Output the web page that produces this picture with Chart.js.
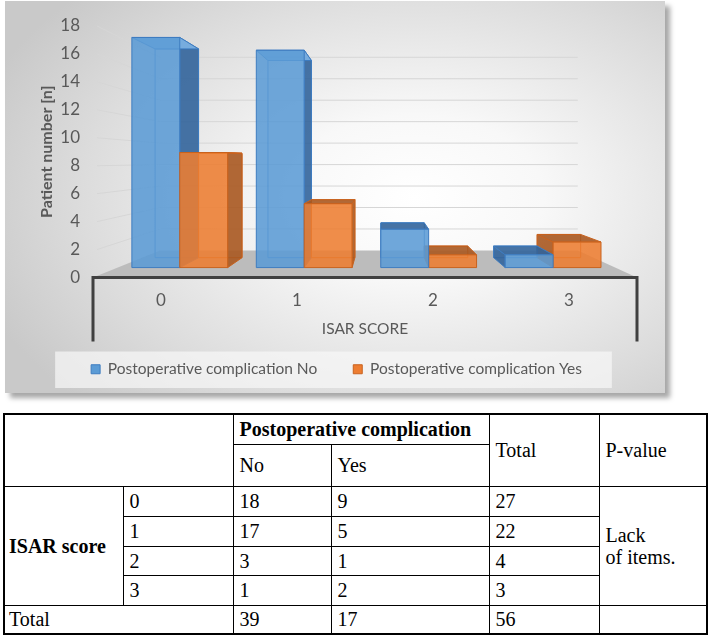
<!DOCTYPE html>
<html>
<head>
<meta charset="utf-8">
<script src="https://cdn.jsdelivr.net/npm/chart.js@4.4.1/dist/chart.umd.min.js"></script>
<style>
    body { margin: 0; background: #fff; width: 709px; height: 635px; position: relative; overflow: hidden; }
    /* painel cinza do grafico */
    #painel {
        position: absolute; left: 5px; top: 1px; width: 660px; height: 392px;
        background: radial-gradient(ellipse 70% 75% at 62% 50%, #ffffff 0%, #f8f8f8 28%, #dcdcdc 72%, #c9c9c9 100%);
        box-shadow: 5px 5px 5px rgba(0, 0, 0, 0.35);
    }
    #grafico { position: absolute; left: 0; top: 0; }
    #tabela {
        position: absolute; left: 3px; top: 413px; width: 703px;
        border-collapse: collapse; table-layout: fixed;
        font-family: "Liberation Serif", "Times New Roman", serif; font-size: 20px; color: #000;
        border: 2px solid #000;
    }
    #tabela td { border: 1.5px solid #000; padding: 0 0 0 6px; vertical-align: middle; line-height: 22px; }
    #tabela td.c1 { padding-left: 4px; }
    #tabela .b { font-weight: bold; }
</style>
</head>
<body>
<div id="painel"></div>
<canvas id="grafico" width="709" height="395"></canvas>
<table id="tabela">
    <colgroup>
        <col style="width:119px"><col style="width:110px"><col style="width:98px">
        <col style="width:158px"><col style="width:110px"><col style="width:108px">
    </colgroup>
    <tbody id="corpo"></tbody>
</table>

<script>
// dados do grafico
const categorias = ['0', '1', '2', '3'];
const complicacaoNao = [18, 17, 3, 1];
const complicacaoSim = [9, 5, 1, 2];
const marcasY = [0, 2, 4, 6, 8, 10, 12, 14, 16, 18];

// cores de cada serie (frente, lado, tampa, borda)
const cores = [
    { frente: 'rgba(91, 155, 213, 0.88)', lado: 'rgba(50, 100, 155, 0.9)', tampa: 'rgba(125, 178, 228, 0.9)', borda: '#3e7cc0' },
    { frente: 'rgba(237, 125, 49, 0.88)', lado: 'rgba(168, 88, 32, 0.9)', tampa: 'rgba(246, 152, 88, 0.9)', borda: '#c8621e' }
];

function quad(ctx, pts, fill, stroke) {
    ctx.beginPath();
    ctx.moveTo(pts[0][0], pts[0][1]);
    for (let i = 1; i < pts.length; i++) ctx.lineTo(pts[i][0], pts[i][1]);
    ctx.closePath();
    ctx.fillStyle = fill;
    ctx.fill();
    ctx.strokeStyle = stroke;
    ctx.lineWidth = 1;
    ctx.stroke();
}

// desenha a cena 3D (paredes, piso e barras) a partir das escalas
const cena3d = {
    id: 'cena3d',
    beforeDraw(chart) {
        // fundo claro da legenda
        const caixas = chart.legend && chart.legend.legendHitBoxes;
        if (caixas && caixas.length) {
            const ctx = chart.ctx;
            const a = caixas[0], b = caixas[caixas.length - 1];
            ctx.save();
            ctx.fillStyle = 'rgba(248, 248, 248, 0.7)';
            ctx.fillRect(a.left - 36, a.top - 10, b.left + b.width - a.left + 66, a.height + 21);
            ctx.restore();
        }
    },
    beforeDatasetsDraw(chart) {
        const ctx = chart.ctx;
        const ca = chart.chartArea;
        const escY = chart.scales.y;
        const vx = ca.left + (ca.right - ca.left) * 0.531;
        const vy = ca.top + (ca.bottom - ca.top) * 0.536;
        const proj = (X, Y, t) => [X + t * (vx - X), Y + t * (vy - Y)];
        const tParede = 0.232, tFrente = 0.085, tFundo = 0.17;
        const y0 = escY.getPixelForValue(0);

        ctx.save();
        // linhas de grade nas paredes
        ctx.strokeStyle = '#d6d6d6';
        ctx.lineWidth = 1;
        marcasY.forEach(v => {
            if (v === 0) return;
            const yy = escY.getPixelForValue(v);
            const a = proj(ca.left, yy, tParede);
            const b = proj(ca.right, yy, tParede);
            ctx.beginPath();
            ctx.moveTo(ca.left + 4, yy);
            ctx.lineTo(a[0], a[1]);
            ctx.lineTo(b[0], b[1]);
            ctx.stroke();
        });

        // piso
        const p1 = proj(ca.left, y0, tParede), p2 = proj(ca.right, y0, tParede);
        ctx.fillStyle = '#bcbcbc';
        ctx.beginPath();
        ctx.moveTo(ca.left, y0);
        ctx.lineTo(p1[0], p1[1]);
        ctx.lineTo(p2[0], p2[1]);
        ctx.lineTo(ca.right, y0);
        ctx.closePath();
        ctx.fill();

        // caixa do eixo das categorias
        ctx.strokeStyle = '#404040';
        ctx.lineWidth = 3;
        ctx.beginPath();
        ctx.moveTo(ca.left, y0 + 64);
        ctx.lineTo(ca.left, y0);
        ctx.lineTo(ca.right, y0);
        ctx.lineTo(ca.right, y0 + 64);
        ctx.stroke();

        // barras
        const barras = [];
        chart.data.datasets.forEach((ds, i) => {
            chart.getDatasetMeta(i).data.forEach(el => {
                barras.push({ x0: el.x - el.width / 2, x1: el.x + el.width / 2, topo: el.y, base: el.base, c: cores[i] });
            });
        });
        barras.sort((a, b) => Math.abs(b.x0 + b.x1 - 2 * vx) - Math.abs(a.x0 + a.x1 - 2 * vx));

        barras.forEach(b => {
            const F = (X, Y) => proj(X, Y, tFrente);
            const T = (X, Y) => proj(X, Y, tFundo);
            // face de tras
            quad(ctx, [T(b.x0, b.topo), T(b.x1, b.topo), T(b.x1, b.base), T(b.x0, b.base)], 'rgba(255,255,255,0.05)', b.c.borda);
            // lateral
            let lx = null;
            if (b.x1 < vx) lx = b.x1;
            else if (b.x0 > vx) lx = b.x0;
            if (lx !== null) {
                quad(ctx, [F(lx, b.topo), T(lx, b.topo), T(lx, b.base), F(lx, b.base)], b.c.lado, b.c.borda);
            }
            // tampa
            quad(ctx, [F(b.x0, b.topo), F(b.x1, b.topo), T(b.x1, b.topo), T(b.x0, b.topo)],
                b.topo < vy ? b.c.tampa : b.c.lado, b.c.borda);
            // frente
            quad(ctx, [F(b.x0, b.topo), F(b.x1, b.topo), F(b.x1, b.base), F(b.x0, b.base)], b.c.frente, b.c.borda);
        });
        ctx.restore();
        return false;
    }
};

document.addEventListener('DOMContentLoaded', function () {
    const ctx = document.getElementById('grafico').getContext('2d');
    const fonte = { family: 'Lato', size: 17 };

    new Chart(ctx, {
        type: 'bar',
        data: {
            labels: categorias,
            datasets: [{
                label: 'Postoperative complication No',
                data: complicacaoNao,
                backgroundColor: '#5b9bd5',
                borderColor: '#3e7cc0',
                borderWidth: 1,
                categoryPercentage: 0.77,
                barPercentage: 1
            }, {
                label: 'Postoperative complication Yes',
                data: complicacaoSim,
                backgroundColor: '#ed7d31',
                borderColor: '#c8621e',
                borderWidth: 1,
                categoryPercentage: 0.77,
                barPercentage: 1
            }]
        },
        options: {
            responsive: false,
            animation: false,
            layout: { padding: { left: 36, right: 72, top: 26, bottom: 8 } },
            plugins: {
                tooltip: { enabled: false },
                legend: {
                    position: 'bottom',
                    labels: { boxWidth: 9, boxHeight: 9, padding: 36, color: '#595959', font: { family: 'Lato', size: 15.5 } }
                }
            },
            scales: {
                x: {
                    grid: { display: false, drawTicks: false },
                    border: { display: false },
                    ticks: { color: '#595959', font: fonte, padding: 13 },
                    title: { display: true, text: 'ISAR SCORE', color: '#595959', font: { family: 'Lato', size: 15.5 }, padding: { top: 0, bottom: -13 } },
                    afterFit: s => { s.height = 48; }
                },
                y: {
                    min: 0,
                    max: 18,
                    afterBuildTicks: s => { s.ticks = marcasY.map(v => ({ value: v })); },
                    grid: { display: false, drawTicks: false },
                    border: { display: false },
                    ticks: { color: '#595959', font: fonte, padding: 13 },
                    title: { display: true, text: 'Patient number [n]', color: '#595959', font: { family: 'Lato', size: 16, weight: 'bold' }, padding: { top: 1, bottom: 0 } },
                    afterFit: s => { s.width = 57; }
                }
            }
        },
        plugins: [cena3d]
    });

    // tabela montada a partir dos mesmos dados
    const corpo = document.getElementById('corpo');
    let html = '<tr style="height:30px"><td colspan="2" rowspan="2"></td><td colspan="2" class="b">Postoperative complication</td>' +
        '<td rowspan="2">Total</td><td rowspan="2">P-value</td></tr>' +
        '<tr style="height:42px"><td>No</td><td>Yes</td></tr>';
    const alturas = [30, 30, 29, 30];
    let somaNao = 0, somaSim = 0;
    categorias.forEach((c, i) => {
        somaNao += complicacaoNao[i];
        somaSim += complicacaoSim[i];
        html += '<tr style="height:' + alturas[i] + 'px">';
        if (i === 0) html += '<td rowspan="4" class="b c1">ISAR score</td>';
        html += '<td>' + c + '</td><td>' + complicacaoNao[i] + '</td><td>' + complicacaoSim[i] + '</td><td>' +
            (complicacaoNao[i] + complicacaoSim[i]) + '</td>';
        if (i === 0) html += '<td rowspan="4">Lack<br>of items.</td>';
        html += '</tr>';
    });
    html += '<tr style="height:29px"><td colspan="2" class="c1">Total</td><td>' + somaNao + '</td><td>' + somaSim + '</td><td>' +
        (somaNao + somaSim) + '</td><td></td></tr>';
    corpo.innerHTML = html;
});
</script>
</body>
</html>
